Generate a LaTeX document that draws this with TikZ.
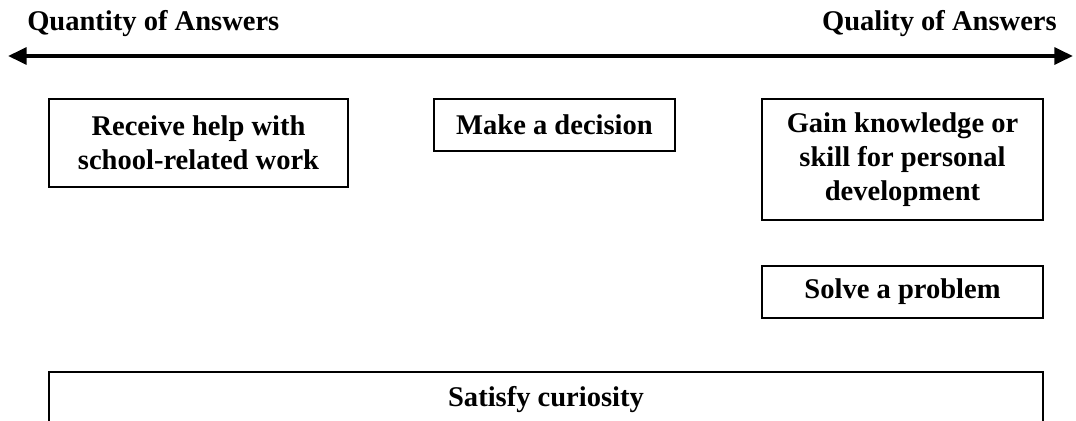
\documentclass[tikz,border=0pt]{standalone}
\usepackage{fontspec}
\setmainfont{Liberation Serif}
\usetikzlibrary{arrows.meta}
\tikzset{
  lbl/.style={inner sep=0pt, font=\bfseries\fontsize{21.4}{25.5}\selectfont},
  goal/.style={draw, line width=1.3pt, inner sep=0pt, align=center, font=\bfseries\fontsize{21.4}{25.5}\selectfont},
  axis/.style={line width=3pt, {Triangle[length=14pt,width=12.5pt]}-{Triangle[length=14pt,width=12.5pt]}}
}
\begin{document}
\begin{tikzpicture}[x=0.75pt,y=-0.75pt]
\useasboundingbox (0,0) rectangle (1076,421);
\clip (0,0) rectangle (1076,421);
% scale of answers
\node[lbl, anchor=base west] (quant) at (27,31) {Quantity of Answers};
\node[lbl, anchor=base east] (qual) at (1057,31) {Quality of Answers};
\coordinate (axl) at (8,56);
\coordinate (axr) at (1073,56);
\draw[axis] (axl) -- (axr);
% goals
\node[goal, minimum width=224.25pt, minimum height=66pt] (help) at (198.5,143) {Receive help with\\school-related work};
\node[goal, minimum width=180.75pt, minimum height=39pt] (decide) at (554.5,125) {Make a decision};
\node[goal, minimum width=210.75pt, minimum height=90.75pt] (gain) at (902.5,159.5) {Gain knowledge or\\skill for personal\\development};
\node[goal, minimum width=210.75pt, minimum height=39pt] (solve) at (902.5,292) {Solve a problem};
\node[goal, minimum width=745.5pt, minimum height=42pt] (curious) at (546,400) {Satisfy curiosity};
\end{tikzpicture}
\end{document}
